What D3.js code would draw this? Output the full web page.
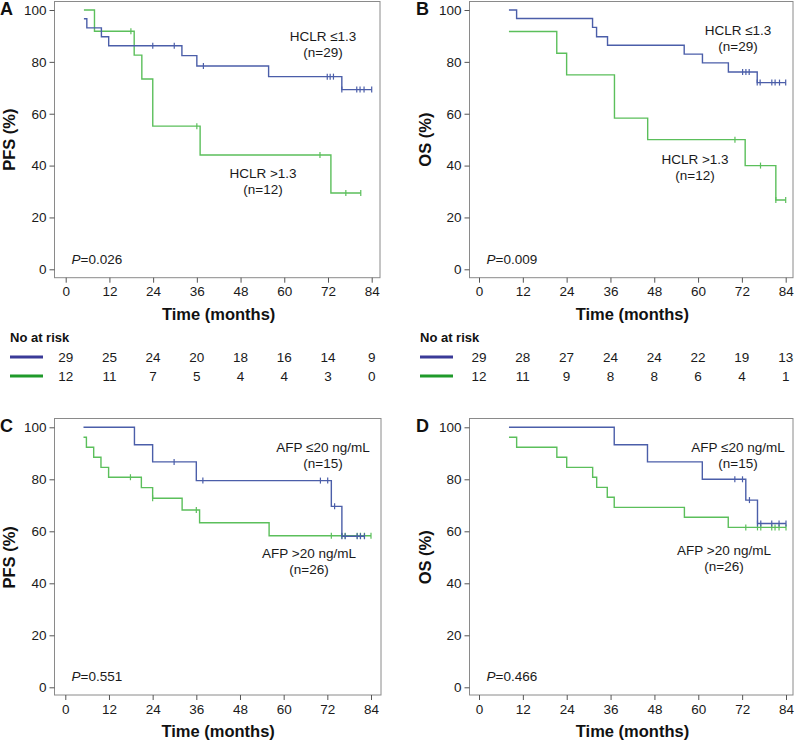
<!DOCTYPE html>
<html><head><meta charset="utf-8">
<script src="https://cdn.jsdelivr.net/npm/d3@7"></script>
<style>
body{margin:0;background:#fff;}
svg{display:block;font-family:"Liberation Sans",Arial,sans-serif;}
</style></head>
<body><svg id="chart" width="797" height="742"></svg>
<script>
// ---------- data ----------
const timeTicks = [0, 12, 24, 36, 48, 60, 72, 84];
const survTicks = [0, 20, 40, 60, 80, 100];

// Panel A: PFS by HCLR
const aLowTimes  = [5.0, 5.8, 9.8, 11.8, 31.9, 36.0, 55.7, 75.8];
const aLowSurv   = [96.6, 93.1, 89.7, 86.2, 82.4, 78.4, 74.3, 69.3];
const aLowCensor = [23.9, 29.8, 37.8, 71.8, 72.6, 73.5, 75.8, 79.9, 80.8, 81.9, 84];
const aHighTimes  = [5.0, 7.9, 18.8, 20.9, 23.9, 36.9, 72.8];
const aHighSurv   = [100, 91.8, 82.6, 73.4, 55.2, 44.1, 29.4];
const aHighCensor = [17.9, 36.0, 69.8, 76.9, 81.0];

// Panel B: OS by HCLR
const bLowTimes  = [8.2, 10.3, 31.1, 32.2, 35.2, 56.2, 61.2, 68.3, 76.2];
const bLowSurv   = [100, 96.7, 93.3, 89.7, 86.4, 83.0, 79.6, 76.1, 72.0];
const bLowCensor = [72.2, 73.1, 74.0, 76.2, 77.0, 80.2, 81.1, 82.3, 84];
const bHighTimes  = [8.2, 21.3, 24.0, 37.1, 46.2, 72.9, 81.3];
const bHighSurv   = [91.7, 83.3, 75.0, 58.3, 50.0, 40.0, 26.7];
const bHighCensor = [70.1, 77.1, 81.3, 84];

// Panel C: PFS by AFP
const cLowTimes  = [5.0, 19.0, 24.0, 36.0, 73.1, 76.0];
const cLowSurv   = [100, 93.3, 86.7, 79.5, 69.6, 58.1];
const cLowCensor = [29.9, 37.8, 70.1, 72.1, 74.0, 76.0, 76.9, 80.2, 81.1, 82.2];
const cHighTimes  = [5.0, 5.8, 7.8, 9.8, 11.9, 20.9, 24.0, 32.1, 36.9, 56.0];
const cHighSurv   = [96.2, 92.3, 88.5, 84.6, 80.8, 76.8, 72.7, 68.2, 63.3, 58.3];
const cHighCensor = [17.9, 24.0, 36.0, 73.1, 76.0, 76.9, 80.2, 81.1, 82.2, 84];

// Panel D: OS by AFP
const dLowTimes  = [8.2, 37.0, 46.1, 61.1, 73.0, 76.2];
const dLowSurv   = [100, 93.3, 86.7, 80.0, 72.0, 63.0];
const dLowCensor = [70.0, 72.1, 74.0, 76.2, 77.1, 80.1, 82.1, 84];
const dHighTimes  = [8.2, 10.3, 21.3, 24.0, 31.1, 32.2, 35.1, 37.0, 56.2, 68.2];
const dHighSurv   = [96.2, 92.3, 88.5, 84.6, 80.8, 76.9, 73.1, 69.2, 65.4, 61.5];
const dHighCensor = [73.0, 76.2, 77.1, 80.1, 81.0, 82.1, 84];

// Numbers at risk
const riskTimes = [0, 12, 24, 36, 48, 60, 72, 84];
const aRiskLow  = [29, 25, 24, 20, 18, 16, 14, 9];
const aRiskHigh = [12, 11, 7, 5, 4, 4, 3, 0];
const bRiskLow  = [29, 28, 27, 24, 24, 22, 19, 13];
const bRiskHigh = [12, 11, 9, 8, 8, 6, 4, 1];

// Labels
const panelLetters = ["A", "B", "C", "D"];
const yTitles = ["PFS (%)", "OS (%)", "PFS (%)", "OS (%)"];
const xTitle = "Time (months)";
const pValues = ["=0.026", "=0.009", "=0.551", "=0.466"];
const lowLabels  = [["HCLR \u22641.3", "(n=29)"], ["HCLR \u22641.3", "(n=29)"], ["AFP \u226420 ng/mL", "(n=15)"], ["AFP \u226420 ng/mL", "(n=15)"]];
const highLabels = [["HCLR >1.3", "(n=12)"], ["HCLR >1.3", "(n=12)"], ["AFP >20 ng/mL", "(n=26)"], ["AFP >20 ng/mL", "(n=26)"]];

// ---------- layout ----------
const BLUE = "#4b5ea9", GREEN = "#5bbf5b";
const RISK_BLUE = "#3a3a98", RISK_GREEN = "#1f9a2a";
const panels = [
  {fx0:54.5, fy0:1.5, fx1:380, fy1:277.7, xr:[65.7,371.7], yr:[269.3,10],
   low:[aLowTimes,aLowSurv,aLowCensor], high:[aHighTimes,aHighSurv,aHighCensor],
   lowPos:[323,36,52], highPos:[263,173,189], pPos:[71.5,259.5], letterX:0, titleX:15},
  {fx0:469.5, fy0:1.5, fx1:793, fy1:277.7, xr:[479,785.7], yr:[269.3,10],
   low:[bLowTimes,bLowSurv,bLowCensor], high:[bHighTimes,bHighSurv,bHighCensor],
   lowPos:[738,30,46], highPos:[695,159,175], pPos:[486.5,259.5], letterX:416, titleX:431},
  {fx0:54.5, fy0:418.5, fx1:381, fy1:695, xr:[65.3,371], yr:[687.3,427.3],
   low:[cLowTimes,cLowSurv,cLowCensor], high:[cHighTimes,cHighSurv,cHighCensor],
   lowPos:[323,447,463], highPos:[309,553,569], pPos:[71.5,676.5], letterX:0, titleX:15},
  {fx0:469.5, fy0:418.5, fx1:793, fy1:695, xr:[479,786], yr:[687.3,427.3],
   low:[dLowTimes,dLowSurv,dLowCensor], high:[dHighTimes,dHighSurv,dHighCensor],
   lowPos:[738,447,463], highPos:[724,550,566], pPos:[486.5,676.5], letterX:416, titleX:431}
];

const svg = d3.select("#chart");
const FONT_TXT = "#1a1a1a";

function stepValue(times, surv, t){
  let v = surv[0];
  for (let i=0;i<times.length;i++){ if (times[i] <= t + 1e-9) v = surv[i]; }
  return v;
}

panels.forEach((p, i) => {
  const g = svg.append("g");
  const x = d3.scaleLinear().domain([0,84]).range(p.xr);
  const y = d3.scaleLinear().domain([0,100]).range(p.yr);

  // frame
  g.append("rect").attr("x",p.fx0).attr("y",p.fy0)
    .attr("width",p.fx1-p.fx0).attr("height",p.fy1-p.fy0)
    .attr("fill","none").attr("stroke","#8a8a8a").attr("stroke-width",1);

  // axes
  const yAxis = d3.axisLeft(y).tickValues(survTicks).tickSize(5).tickPadding(3);
  const ya = g.append("g").attr("transform",`translate(${p.fx0},0)`).call(yAxis);
  const xAxis = d3.axisBottom(x).tickValues(timeTicks).tickSize(5).tickPadding(4);
  const xa = g.append("g").attr("transform",`translate(0,${p.fy1})`).call(xAxis);
  [ya, xa].forEach(a => {
    a.select(".domain").remove();
    a.selectAll(".tick line").attr("stroke","#555");
    a.selectAll(".tick text").attr("fill",FONT_TXT)
      .style("font-size","13.5px").style("font-family","'Liberation Sans',Arial,sans-serif");
  });

  // axis titles
  g.append("text").attr("x",(p.xr[0]+p.xr[1])/2).attr("y",p.fy1+42)
    .attr("text-anchor","middle").style("font-size","16.5px").style("font-weight","bold")
    .attr("fill","#111").text(xTitle);
  const cy = (p.yr[0]+p.yr[1])/2;
  g.append("text").attr("transform",`translate(${p.titleX},${cy}) rotate(-90)`)
    .attr("text-anchor","middle").style("font-size","16.5px").style("font-weight","bold")
    .attr("fill","#111").text(yTitles[i]);

  // panel letter
  g.append("text").attr("x",p.letterX).attr("y",p.fy0+13.5)
    .style("font-size","18px").style("font-weight","bold").attr("fill","#111").text(panelLetters[i]);

  // curves
  const line = d3.line().x(d=>x(d[0])).y(d=>y(d[1])).curve(d3.curveStepAfter);
  [[p.high, GREEN],[p.low, BLUE]].forEach(([s, col]) => {
    const [times, surv, cens] = s;
    const pts = times.map((t,k)=>[t, surv[k]]);
    const endT = Math.max(times[times.length-1], d3.max(cens));
    pts.push([endT, surv[surv.length-1]]);
    g.append("path").attr("d", line(pts)).attr("fill","none")
      .attr("stroke",col).attr("stroke-width",1.4);
    g.selectAll(null).data(cens).enter().append("line")
      .attr("x1",d=>x(d)).attr("x2",d=>x(d))
      .attr("y1",d=>y(stepValue(times,surv,d))-3).attr("y2",d=>y(stepValue(times,surv,d))+3)
      .attr("stroke",col).attr("stroke-width",1.2);
  });

  // group labels
  [p.lowPos, p.highPos].forEach((pos, k) => {
    const lab = k===0 ? lowLabels[i] : highLabels[i];
    g.append("text").attr("x",pos[0]).attr("y",pos[1]).attr("dy","0.35em")
      .attr("text-anchor","middle").style("font-size","13.5px").attr("fill",FONT_TXT).text(lab[0]);
    g.append("text").attr("x",pos[0]).attr("y",pos[2]).attr("dy","0.35em")
      .attr("text-anchor","middle").style("font-size","13.5px").attr("fill",FONT_TXT).text(lab[1]);
  });

  // p value
  const pt = g.append("text").attr("x",p.pPos[0]).attr("y",p.pPos[1]).attr("dy","0.35em")
    .style("font-size","13.5px").attr("fill",FONT_TXT);
  pt.append("tspan").style("font-style","italic").text("P");
  pt.append("tspan").text(pValues[i]);
});

// ---------- numbers at risk tables ----------
const riskTables = [
  {panel:0, lineX:[10,43], titleX:10, low:aRiskLow, high:aRiskHigh},
  {panel:1, lineX:[420,453], titleX:420, low:bRiskLow, high:bRiskHigh}
];
const riskTitleY = 337, riskRowY = [357, 376];
riskTables.forEach(t => {
  const p = panels[t.panel];
  const x = d3.scaleLinear().domain([0,84]).range(p.xr);
  const g = svg.append("g");
  g.append("text").attr("x",t.titleX).attr("y",riskTitleY).attr("dy","0.35em")
    .style("font-size","13px").style("font-weight","bold").attr("fill","#111").text("No at risk");
  [[t.low, RISK_BLUE],[t.high, RISK_GREEN]].forEach(([vals,col],r) => {
    g.append("line").attr("x1",t.lineX[0]).attr("x2",t.lineX[1])
      .attr("y1",riskRowY[r]).attr("y2",riskRowY[r]).attr("stroke",col).attr("stroke-width",3);
    g.selectAll(null).data(vals).enter().append("text")
      .attr("x",(d,k)=>x(riskTimes[k])).attr("y",riskRowY[r]).attr("dy","0.35em")
      .attr("text-anchor","middle").style("font-size","13.5px").attr("fill",FONT_TXT).text(d=>d);
  });
});
</script></body></html>
